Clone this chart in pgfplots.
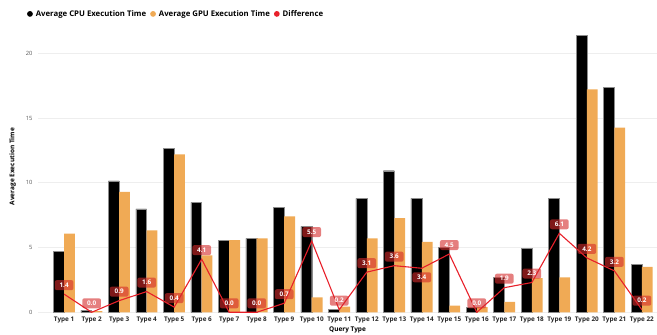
\documentclass[border=0pt]{standalone}
\usepackage{fontspec}
\setmainfont{Open Sans}
\usepackage{pgfplots}
\usepackage{pgfplotstable}
\pgfplotsset{compat=1.18}
\definecolor{gpuor}{HTML}{F0AA55}
\definecolor{diffred}{HTML}{E8202A}
\definecolor{lblred}{HTML}{D42A2A}
\definecolor{gridc}{HTML}{EEEEEE}
\definecolor{tickc}{HTML}{555555}

\pgfplotstableread{
x cpu gpu diff sh
1 4.68 6.07 1.4 9
2 0.15 0.10 0.0 9
3 10.14 9.29 0.9 9
4 7.98 6.33 1.6 9
5 12.64 12.20 0.4 9
6 8.49 4.40 4.1 9
7 5.58 5.58 0.0 9
8 5.71 5.71 0.0 9
9 8.10 7.41 0.7 9
10 6.64 1.16 5.5 9
11 0.23 0.43 0.2 9
12 8.80 5.71 3.1 9
13 10.93 7.28 3.6 9
14 8.80 5.43 3.4 -9
15 4.99 0.51 4.5 9
16 0.38 0.40 0.0 9
17 2.70 0.80 1.9 9
18 4.94 2.64 2.3 9
19 8.80 2.70 6.1 9
20 21.41 17.22 4.2 9
21 17.37 14.25 3.2 9
22 3.70 3.50 0.2 9
}\datatable

\begin{document}
\begin{tikzpicture}
\useasboundingbox (0,0) rectangle (657bp,335bp);
\begin{axis}[
  at={(38bp,22.7bp)}, anchor=south west,
  scale only axis,
  width=619bp, height=291.4bp,
  xmin=0.05, xmax=22.55,
  ymin=0, ymax=22.5,
  axis line style={draw=none},
  tick style={draw=none},
  ytick={0,5,10,15,20},
  ymajorgrids, grid style={gridc, line width=0.8bp},
  xtick={1,...,22},
  xticklabels={Type 1,Type 2,Type 3,Type 4,Type 5,Type 6,Type 7,Type 8,Type 9,Type 10,Type 11,Type 12,Type 13,Type 14,Type 15,Type 16,Type 17,Type 18,Type 19,Type 20,Type 21,Type 22},
  x tick label style={font=\fontsize{6.4}{7}\selectfont\bfseries, text=black!85, yshift=-1bp},
  y tick label style={font=\fontsize{5.8}{7}\selectfont, text=tickc, xshift=-2bp},
  /pgf/number format/assume math mode=true,
  xlabel={Query Type},
  xlabel style={font=\fontsize{6.5}{8}\selectfont\bfseries, yshift=3bp},
  ylabel={Average Execution Time},
  ylabel style={font=\fontsize{6.5}{8}\selectfont\bfseries, yshift=3bp},
  bar width=10.8bp,
  legend style={at={(-0.018,1.024)}, anchor=west, draw=none, fill=none,
    legend columns=-1, font=\fontsize{7.8}{9}\selectfont\bfseries,
    column sep=1bp, inner sep=0pt,
    /tikz/every even column/.append style={column sep=2bp}},
  legend image code/.code={\fill[#1] (0.08cm,0) circle (2.9bp);},
]
\addlegendimage{fill=black, draw=none}
\addlegendentry{Average CPU Execution Time}
\addlegendimage{fill=gpuor, draw=none}
\addlegendentry{Average GPU Execution Time}
\addlegendimage{fill=diffred, draw=none}
\addlegendentry{Difference}

\addplot[ybar, bar shift=-5.4bp, fill=black, draw=black!45, line width=0.4bp, forget plot] table[x=x, y=cpu] {\datatable};
\addplot[ybar, bar shift=5.4bp, fill=gpuor, draw=none, forget plot] table[x=x, y=gpu] {\datatable};
\addplot[diffred, line width=1.1bp, mark=none, forget plot,
  nodes near coords,
  point meta=explicit,
  visualization depends on={\thisrow{sh} \as \lsh},
  nodes near coords={\pgfmathprintnumber[fixed, fixed zerofill, precision=1]{\pgfplotspointmeta}},
  every node near coord/.append style={anchor=center, yshift=\lsh bp,
    fill=lblred, fill opacity=0.6, text opacity=1, text=white,
    rounded corners=2bp, inner xsep=4.8bp, inner ysep=1.8bp,
    font=\fontsize{6.4}{7}\selectfont\bfseries, minimum height=10bp},
] table[x=x, y=diff, meta=diff] {\datatable};
\end{axis}
\end{tikzpicture}
\end{document}
